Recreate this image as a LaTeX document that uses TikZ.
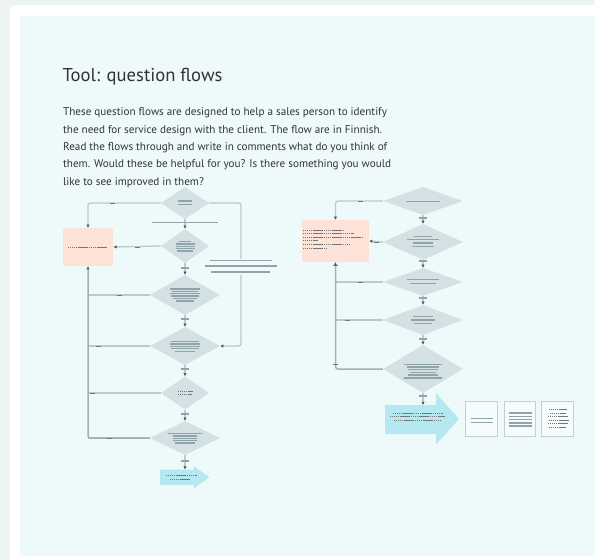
\documentclass[tikz,border=0pt]{standalone}
\usepackage{fontspec}
\setmainfont{PT Sans}
\usetikzlibrary{shapes.geometric,arrows.meta,calc,backgrounds}

\definecolor{pagebg}{HTML}{EEF3F3}
\definecolor{boardbg}{HTML}{EEFAFA}
\definecolor{diafill}{HTML}{D4E1E4}
\definecolor{barc}{HTML}{8FA4AA}
\definecolor{linec}{HTML}{BCC8CA}
\definecolor{trunkc}{HTML}{A3B0B3}
\definecolor{tipc}{HTML}{4F5658}
\definecolor{notefill}{HTML}{FDE2D8}
\definecolor{goalfill}{HTML}{B6E8F1}
\definecolor{cardfill}{HTML}{F6FBFB}
\definecolor{cardline}{HTML}{C3CED0}
\definecolor{inkc}{HTML}{333333}
\definecolor{specc}{HTML}{707878}

\tikzset{
  dia/.style={diamond, fill=diafill, draw=none, inner sep=0pt},
  note/.style={rectangle, fill=notefill, draw=none, inner sep=0pt},
  card/.style={rectangle, fill=cardfill, draw=cardline, line width=0.9pt, inner sep=0pt,
    minimum width=31.5pt, minimum height=35.5pt},
  flow/.style={draw=linec, line width=1.3pt, rounded corners=2.5pt},
  trunk/.style={draw=trunkc, line width=1.5pt, rounded corners=2.5pt},
  tip/.style={-{Latex[length=3.2pt,width=3.4pt,color=tipc]}},
  txtbar/.style={draw=barc, line width=1.3pt},
  speck/.style={draw=specc, line width=0.8pt, dash pattern=on 1.4pt off 0.5pt},
  labmark/.style={draw=tipc!80, line width=0.8pt},
}

% horizontal text bar centred on a node: node, half width, vertical offset
\newcommand{\tbar}[3]{\draw[txtbar] ($(#1)+(-#2,#3)$) -- ($(#1)+(#2,#3)$);}
% row of tiny lettering: from x, to x, at y
\newcommand{\srow}[3]{\draw[speck] (#1,#3) -- (#2,#3);}
% small connector label mark at a point
\newcommand{\cmark}[2]{\draw[labmark] (#1-2.5,#2) -- (#1+2.5,#2);}

\begin{document}
\begin{tikzpicture}[x=1pt,y=-1pt]
\useasboundingbox (0,0) rectangle (595,560);

% heading and introduction
\node[anchor=base west, inner sep=0pt, text=inkc, font=\fontsize{18.6}{22}\selectfont]
  (title) at (62.5,81.5) {Tool: question flows};
\node[anchor=base west, inner sep=0pt, text=inkc, align=left,
  font=\fontsize{11.15}{17.4}\selectfont] (intro) at (63,185.2)
  {These question flows are designed to help a sales person to identify\\
   the need for service design with the client. The flow are in Finnish.\\
   Read the flows through and write in comments what do you think of\\
   them. Would these be helpful for you? Is there something you would\\
   like to see improved in them?};

% ---------------- first flow ----------------
\node[dia, minimum width=48pt, minimum height=32pt] (a1) at (185,203) {};
\node[dia, minimum width=48pt, minimum height=34pt] (a2) at (185,246) {};
\node[dia, minimum width=70pt, minimum height=40pt] (a3) at (185,295) {};
\node[dia, minimum width=70pt, minimum height=38pt] (a4) at (185,346) {};
\node[dia, minimum width=48pt, minimum height=33pt] (a5) at (185,393) {};
\node[dia, minimum width=70pt, minimum height=34pt] (a6) at (185,438) {};
\node[note, minimum width=50.5pt, minimum height=38pt] (anote) at (88,247) {};
\coordinate (aend) at (185,469.5);

% end arrow of the first flow
\fill[goalfill] (160,469.5) -- (194,469.5) -- (194,466) -- (209.3,477.3)
  -- (194,488.3) -- (194,485) -- (160,485) -- cycle;

% question texts
\tbar{a1}{7}{-2} \tbar{a1}{7}{1.4}
\tbar{a2}{6}{-4.4} \tbar{a2}{9.5}{-2} \tbar{a2}{9.5}{0.3} \tbar{a2}{9.5}{2.7} \tbar{a2}{8.3}{5.1}
\tbar{a3}{15}{-6} \tbar{a3}{13}{-3.6} \tbar{a3}{15}{-1.3} \tbar{a3}{14}{1.1} \tbar{a3}{12}{3.6} \tbar{a3}{9}{6}
\tbar{a4}{14}{-4.4} \tbar{a4}{15}{-2} \tbar{a4}{15}{0.4} \tbar{a4}{14}{2.8} \tbar{a4}{10}{5.2}
\tbar{a6}{17}{-4.5} \tbar{a6}{12}{-2.1} \tbar{a6}{12}{0.3} \tbar{a6}{12}{2.7} \tbar{a6}{10}{5.1}
\srow{178}{193}{391} \srow{178}{192}{394.7}
\srow{68}{107}{247}
\srow{166}{197}{475.2} \srow{170}{190}{479}

% ---------------- second flow ----------------
\node[dia, minimum width=80pt, minimum height=28pt] (b1) at (423,201) {};
\node[dia, minimum width=80pt, minimum height=36pt] (b2) at (423,242) {};
\node[dia, minimum width=80pt, minimum height=28pt] (b3) at (423,282) {};
\node[dia, minimum width=80pt, minimum height=30pt] (b4) at (423,320) {};
\node[dia, minimum width=80pt, minimum height=48pt] (b5) at (423,369) {};
\node[note, minimum width=67pt, minimum height=42pt] (bnote) at (335.5,241) {};
\coordinate (bend) at (423,405);

% end arrow of the second flow
\fill[goalfill] (385,405) -- (436,405) -- (436,393) -- (459,419)
  -- (436,444.5) -- (436,434) -- (385,434) -- cycle;

% outcome cards
\node[card] (c1) at (481.5,419) {};
\node[card] (c2) at (520,419) {};
\node[card] (c3) at (557.5,419) {};

% question texts
\tbar{b1}{17}{0.3}
\tbar{b2}{9}{-5.7} \tbar{b2}{16}{-2.3} \tbar{b2}{10}{1} \tbar{b2}{10.7}{4.3}
\tbar{b3}{16}{-2.3} \tbar{b3}{13}{1.7}
\tbar{b4}{10}{-3.3} \tbar{b4}{11.7}{0} \tbar{b4}{9}{3.7}
\tbar{b5}{19}{-4.7} \tbar{b5}{16}{-2} \tbar{b5}{15}{0.7} \tbar{b5}{13}{3.3} \tbar{b5}{15}{6} \tbar{b5}{18.7}{9}

% note and arrow lettering
\srow{303}{343}{230} \srow{303}{354}{233.6} \srow{303}{363}{237.2}
\srow{303}{318}{240.8} \srow{303}{350}{244.4} \srow{303}{326}{248}
\srow{393}{443}{413.3} \srow{390}{445}{416.8} \srow{394}{440}{420.3}

% card contents
\draw[txtbar] (470.5,418.8) -- (492.5,418.8);
\draw[txtbar] (470.5,422.4) -- (492.5,422.4);
\foreach \yy in {413,416.3,419.6,422.9,425.9} {\draw[txtbar] (508.5,\yy) -- (531.5,\yy);}
\srow{549}{567}{409.5} \srow{550}{566}{413} \srow{548}{568}{416.5}
\srow{549}{569}{420} \srow{548}{568}{423.5} \srow{549}{566}{427}

% page, board and connectors sit beneath the shapes
\begin{scope}[on background layer]
% page, card and board
\fill[pagebg] (0,0) rectangle (595,560);
\fill[white, rounded corners=4pt] (10,5) rectangle (605,570);
\fill[boardbg] (20,16) rectangle (595,556);
% first flow
\draw[flow, tip] (a1.west) -| (anote.north);
\draw[flow, tip] (a1.east) -- (241,203) -- (241,346) -- (a4.east);
\draw[flow, tip] (a2.west) -- (anote.east);
\draw[flow, tip] (a1) -- (a2);
\draw[flow, tip] (a2) -- (a3);
\draw[flow, tip] (a3) -- (a4);
\draw[flow, tip] (a4) -- (a5);
\draw[flow, tip] (a5) -- (a6);
\draw[flow, tip] (a6) -- (aend);
\draw[flow] (a3.west) -- (88,295);
\draw[flow] (a4.west) -- (88,346);
\draw[flow] (a5.west) -- (88,393);
\draw[flow] (a6.west) -- (88,438);
\draw[trunk, tip] (a6.west) -| (anote.south);
% second flow
\draw[flow, tip] (b1.west) -| (bnote.north);
\draw[flow, tip] (b2.west) -- (bnote.east);
\draw[flow, tip] (b1) -- (b2);
\draw[flow, tip] (b2) -- (b3);
\draw[flow, tip] (b3) -- (b4);
\draw[flow, tip] (b4) -- (b5);
\draw[flow, tip] (b5) -- (bend);
\draw[flow] (b3.west) -- (335.5,282);
\draw[flow] (b4.west) -- (335.5,320);
\draw[trunk, tip] (b5.west) -| (bnote.south);
\end{scope}

% connector labels
\fill[boardbg] (204,259) rectangle (278,275);
\draw[txtbar] (210,260.3) -- (272,260.3);
\draw[txtbar] (205,266) -- (277,266);
\draw[txtbar] (211,272) -- (270,272);
\draw[txtbar] (152,222.7) -- (218,222.7);
\foreach \yy in {268,319,369,414,461} {\draw[txtbar, line width=1.1pt] (181,\yy) -- (189,\yy);}
\cmark{112}{203} \cmark{137}{247} \cmark{119}{295} \cmark{98}{346}
\cmark{92}{393} \cmark{109}{438}
\foreach \yy in {218,261,298,339,396} {\draw[txtbar, line width=1.1pt] (419,\yy) -- (427,\yy);}
\cmark{360}{201} \cmark{376}{242} \cmark{360}{282} \cmark{347}{320}
\draw[labmark] (333,265) -- (338,265);
\draw[labmark] (333,364) -- (338,364);

\end{tikzpicture}
\end{document}
